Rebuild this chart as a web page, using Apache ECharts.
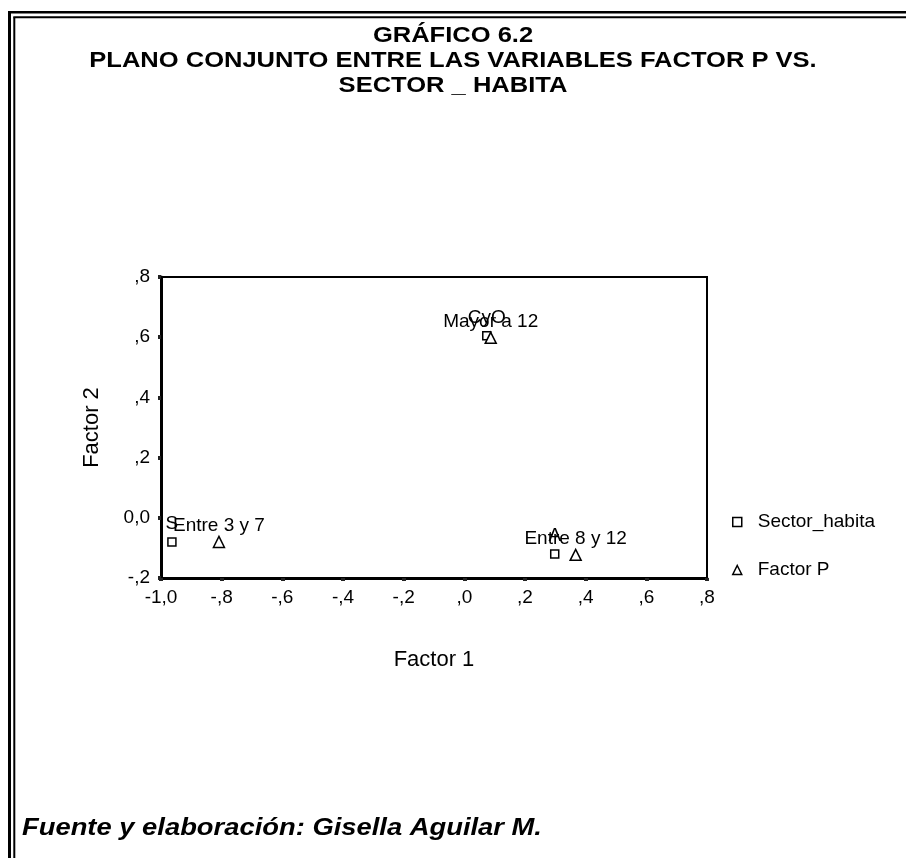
<!DOCTYPE html>
<html>
<head>
<meta charset="utf-8">
<script src="https://cdn.jsdelivr.net/npm/echarts@6/dist/echarts.min.js"></script>
<style>html,body{margin:0;padding:0;background:#fff;}#c{width:906px;height:858px;}</style>
</head>
<body>
<div id="c"></div>
<script>
// Data
var titleLines = ['GRÁFICO 6.2', 'PLANO CONJUNTO ENTRE LAS VARIABLES FACTOR P VS.', 'SECTOR _ HABITA'];
var footerText = 'Fuente y elaboración: Gisella Aguilar M.';
var sectorNames = ['S', 'CyO', 'A'];
var sectorX = [-0.964, 0.074, 0.298];
var sectorY = [-0.080, 0.605, -0.120];
var factorNames = ['Entre 3 y 7', 'Mayor a 12', 'Entre 8 y 12'];
var factorX = [-0.809, 0.087, 0.367];
var factorY = [-0.080, 0.598, -0.123];
var xTickLabels = ['-1,0', '-,8', '-,6', '-,4', '-,2', ',0', ',2', ',4', ',6', ',8'];
var yTickLabels = ['-,2', '0,0', ',2', ',4', ',6', ',8'];
var seriesNames = ['Sector_habita', 'Factor P'];

function pts(names, xs, ys) {
  return names.map(function (n, i) { return { name: n, value: [xs[i], ys[i]] }; });
}
var FONT = 'Arial, "Liberation Sans", sans-serif';
var chart = echarts.init(document.getElementById('c'), null, { renderer: 'canvas' });
function lbl(d) {
  return { show: true, formatter: '{b}', position: 'top', distance: d, color: '#000', fontFamily: FONT, fontSize: 19 };
}
var titleY = [35.5, 60.5, 85.5];
var graphics = [
  { type: 'line', shape: { x1: 9.5, y1: 12.2, x2: 9.5, y2: 858 }, style: { stroke: '#000', lineWidth: 3 } },
  { type: 'line', shape: { x1: 8, y1: 12.2, x2: 906, y2: 12.2 }, style: { stroke: '#000', lineWidth: 2.6 } },
  { type: 'line', shape: { x1: 14.3, y1: 17.3, x2: 14.3, y2: 858 }, style: { stroke: '#000', lineWidth: 2 } },
  { type: 'line', shape: { x1: 13.3, y1: 17.3, x2: 906, y2: 17.3 }, style: { stroke: '#000', lineWidth: 2 } },
  { type: 'text', x: 22, y: 828, scaleX: 1.14, style: { text: footerText, x: 0, y: 0, align: 'left', textAlign: 'left', verticalAlign: 'middle', textVerticalAlign: 'middle', fontFamily: FONT, fontWeight: 'bold', fontStyle: 'italic', fontSize: 24, fill: '#000' } }
];
titleLines.forEach(function (t, i) {
  graphics.push({ type: 'text', x: 453, y: titleY[i], scaleX: 1.16, style: { text: t, x: 0, y: 0, align: 'center', textAlign: 'center', verticalAlign: 'middle', textVerticalAlign: 'middle', fontFamily: FONT, fontWeight: 'bold', fontSize: 22, fill: '#000' } });
});
chart.setOption({
  backgroundColor: '#fff',
  animation: false,
  grid: { left: 161, top: 277, width: 546, height: 301, show: true, borderColor: '#000', borderWidth: 2, backgroundColor: 'transparent' },
  legend: {
    orient: 'vertical', left: 732, top: 512, padding: 0, itemGap: 28, itemWidth: 9, itemHeight: 9,
    textStyle: { fontFamily: FONT, fontSize: 19, lineHeight: 20, color: '#000', padding: [0, 0, 0, 11] },
    data: [
      { name: seriesNames[0], icon: 'rect', itemStyle: { color: '#fff', borderColor: '#000', borderWidth: 1.5 } },
      { name: seriesNames[1], icon: 'triangle', itemStyle: { color: '#fff', borderColor: '#000', borderWidth: 1.5 } }
    ]
  },
  xAxis: {
    type: 'value', min: -1, max: 0.8, interval: 0.2,
    name: 'Factor 1', nameLocation: 'middle', nameGap: 71,
    nameTextStyle: { fontFamily: FONT, fontSize: 22, color: '#000' },
    axisLine: { show: true, onZero: false, lineStyle: { color: '#000', width: 3 } },
    axisTick: { show: true, length: 3, lineStyle: { color: '#222', width: 4 } },
    splitLine: { show: false },
    axisLabel: {
      margin: 10, fontFamily: FONT, fontSize: 19, color: '#000',
      formatter: function (v) { return xTickLabels[Math.round((v + 1) / 0.2)]; }
    }
  },
  yAxis: {
    type: 'value', min: -0.2, max: 0.8, interval: 0.2,
    name: 'Factor 2', nameLocation: 'middle', nameGap: 58, nameRotate: 90,
    nameTextStyle: { fontFamily: FONT, fontSize: 22, color: '#000' },
    axisLine: { show: true, onZero: false, lineStyle: { color: '#000', width: 3 } },
    axisTick: { show: true, length: 3, lineStyle: { color: '#222', width: 4 } },
    splitLine: { show: false },
    axisLabel: {
      margin: 11, fontFamily: FONT, fontSize: 19, color: '#000',
      formatter: function (v) { return yTickLabels[Math.round((v + 0.2) / 0.2)]; }
    }
  },
  series: [
    {
      name: seriesNames[0], type: 'scatter', symbol: 'rect', symbolSize: 8,
      itemStyle: { color: '#fff', borderColor: '#000', borderWidth: 1.5, opacity: 1 },
      label: lbl(4),
      data: pts(sectorNames, sectorX, sectorY)
    },
    {
      name: seriesNames[1], type: 'scatter', symbol: 'triangle', symbolSize: 11,
      itemStyle: { color: '#fff', borderColor: '#000', borderWidth: 1.5, opacity: 1 },
      label: lbl(0),
      data: pts(factorNames, factorX, factorY)
    }
  ],
  graphic: graphics
});
</script>
</body>
</html>
